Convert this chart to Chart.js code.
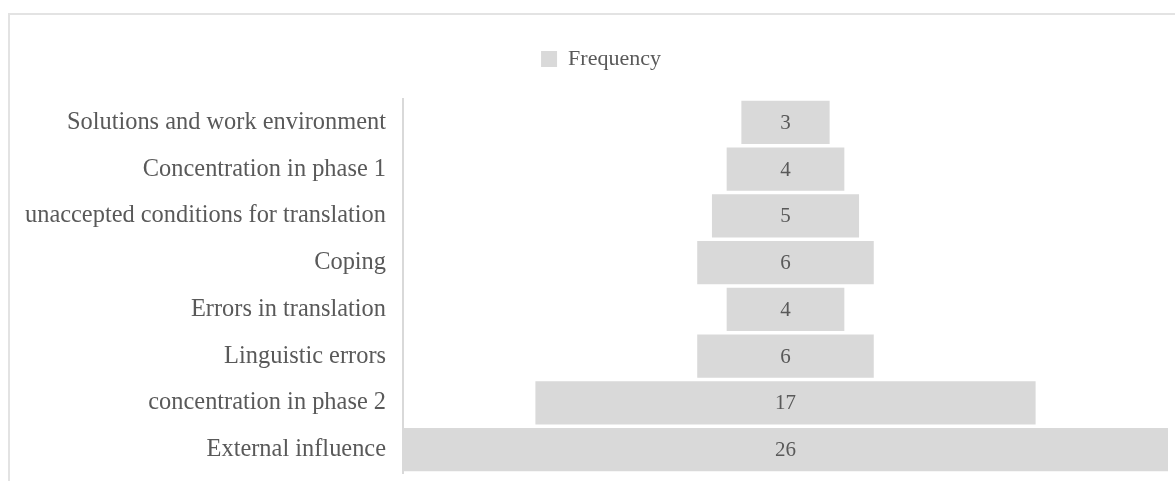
<!DOCTYPE html>
<html>
<head>
<meta charset="utf-8">
<script src="https://cdn.jsdelivr.net/npm/chart.js@4.4.0/dist/chart.umd.min.js"></script>
<style>
  html, body { margin: 0; padding: 0; background: #fff; overflow: hidden; }
  #wrap { position: relative; width: 1175px; height: 481px; }
  #frame { position: absolute; left: 8px; top: 13px; width: 1200px; height: 500px; border: 2px solid #e3e3e3; box-sizing: border-box; }
  #chart { position: absolute; left: 0; top: 0; }
</style>
</head>
<body>
<div id="wrap">
  <div id="frame"></div>
  <canvas id="chart" width="1175" height="481"></canvas>
</div>
<script>
const categories = [
  "Solutions and work environment",
  "Concentration in phase 1",
  "unaccepted conditions for translation",
  "Coping",
  "Errors in translation",
  "Linguistic errors",
  "concentration in phase 2",
  "External influence"
];
const frequency = [3, 4, 5, 6, 4, 6, 17, 26];

const serif = "'Liberation Serif', 'Times New Roman', serif";
const textColor = "#595959";
const barColor = "#d9d9d9";

// funnel: every bar is centred on the middle of the widest one
const widest = Math.max(...frequency);
const funnelBars = frequency.map(v => [(widest - v) / 2, (widest + v) / 2]);

// write the value in the middle of each bar
const valueLabels = {
  id: "valueLabels",
  afterDatasetsDraw(chart) {
    const ctx = chart.ctx;
    const meta = chart.getDatasetMeta(0);
    ctx.save();
    ctx.font = "21px " + serif;
    ctx.fillStyle = textColor;
    ctx.textAlign = "center";
    ctx.textBaseline = "middle";
    meta.data.forEach((bar, i) => {
      const p = bar.getProps(["x", "base", "y"], true);
      ctx.fillText(String(frequency[i]), (p.x + p.base) / 2, p.y + 1);
    });
    ctx.restore();
  }
};

// more room between the legend and the bars, legend nudged right a bit
const legendGap = {
  id: "legendGap",
  beforeInit(chart) {
    const fit = chart.legend.fit;
    chart.legend.fit = function() {
      fit.call(this);
      this.height += 19;
    };
    const draw = chart.legend.draw;
    chart.legend.draw = function() {
      this.ctx.save();
      this.ctx.translate(7, 0);
      draw.call(this);
      this.ctx.restore();
    };
  }
};

const ctx = document.getElementById("chart").getContext("2d");
window.chart = new Chart(ctx, {
  type: "bar",
  data: {
    labels: categories,
    datasets: [{
      label: "Frequency",
      data: funnelBars,
      backgroundColor: barColor,
      borderWidth: 0,
      categoryPercentage: 0.92,
      barPercentage: 1
    }]
  },
  options: {
    indexAxis: "y",
    responsive: false,
    animation: false,
    layout: { padding: { left: 20, right: 7, top: 17, bottom: 8 } },
    plugins: {
      tooltip: { enabled: false },
      legend: {
        position: "top",
        labels: {
          color: textColor,
          font: { family: serif, size: 22 },
          boxWidth: 16,
          boxHeight: 16,
          padding: 31
        }
      }
    },
    scales: {
      x: {
        min: 0,
        max: widest,
        display: false
      },
      y: {
        grid: { display: false, drawTicks: false },
        border: { display: true, color: "#d9d9d9", width: 2 },
        ticks: {
          color: textColor,
          font: { family: serif, size: 24.4 },
          padding: 17
        },
        afterFit(scale) {
          scale.width = 383;
          scale.paddingTop = 0;
          scale.paddingBottom = 0;
        }
      }
    }
  },
  plugins: [valueLabels, legendGap]
});
</script>
</body>
</html>
